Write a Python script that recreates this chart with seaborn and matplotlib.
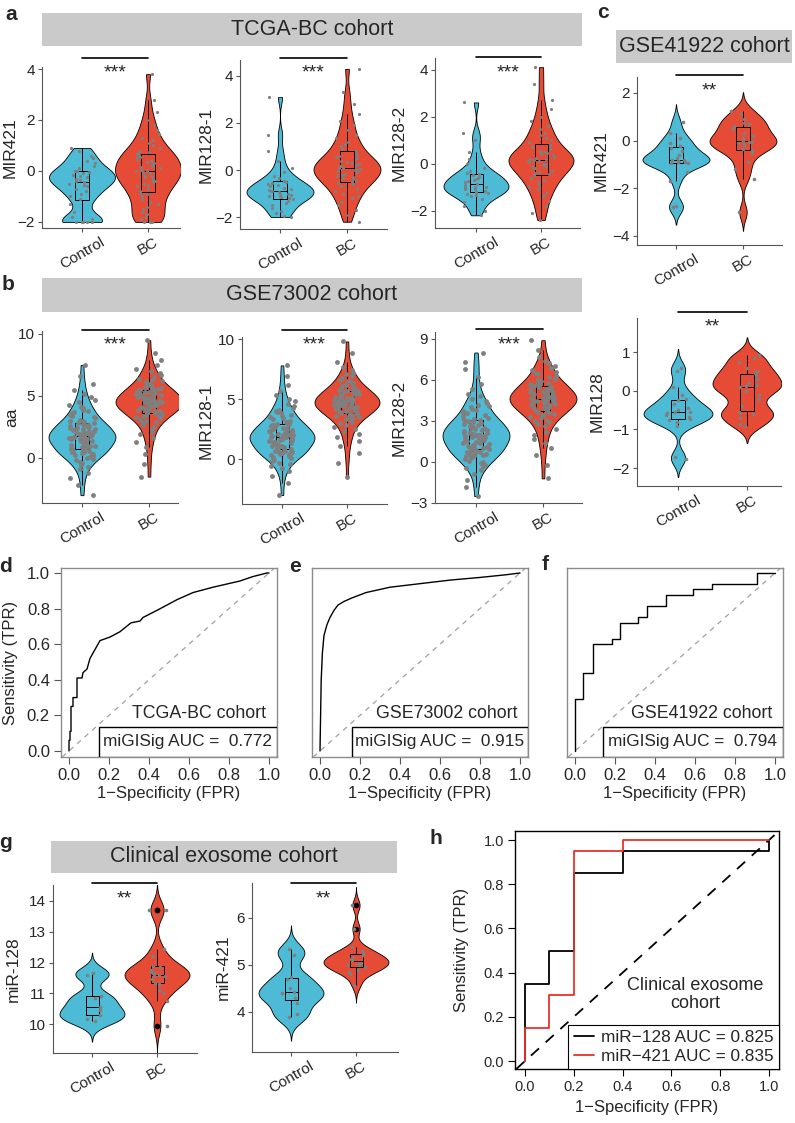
import numpy as np
import pandas as pd
import seaborn as sns
import matplotlib.pyplot as plt
from matplotlib.patches import Rectangle
from matplotlib.lines import Line2D

np.random.seed(3)

groups = ["Control", "BC"]
pal = ["#4DBBD5", "#E64B35"]
pt_grey = "#7F7F7F"

# a: TCGA-BC cohort
a1_ctrl = [-2, -2, -2, -2, -2, -1.9, -1.8, -1.6, -1.3, -1.1, -1.0, -0.9, -0.8, -0.7, -0.6, -0.55, -0.5, -0.45,
           -0.4, -0.35, -0.3, -0.25, -0.2, -0.15, -0.1, -0.05, 0, 0, 0.1, 0.2, 0.3, 0.4, 0.5, 0.6, 0.8, 0.9]
a1_bc = [-2, -2, -2, -1.9, -1.8, -1.7, -1.6, -1.5, -1.4, -1.3, -1.2, -1.1, -1.0, -0.9, -0.85, -0.8, -0.7, -0.6,
         -0.55, -0.5, -0.45, -0.4, -0.35, -0.3, -0.25, -0.2, -0.15, -0.1, -0.05, 0, 0, 0.05, 0.1, 0.15, 0.2,
         0.25, 0.3, 0.35, 0.4, 0.45, 0.5, 0.55, 0.6, 0.65, 0.7, 0.75, 0.8, 0.9, 1.0, 1.1, 1.2, 1.3, 1.45, 1.6,
         1.8, 2.0, 2.3, 2.8, 3.8]
a2_ctrl = [-2.0, -1.95, -1.85, -1.75, -1.6, -1.5, -1.4, -1.3, -1.25, -1.2, -1.15, -1.1, -1.1, -1.05, -1.0, -1.0,
           -0.95, -0.9, -0.9, -0.85, -0.8, -0.75, -0.7, -0.65, -0.6, -0.55, -0.5, -0.45, -0.35, -0.25, -0.1, 0.1,
           0.4, 0.8, 1.5, 3.1]
a2_bc = [-2.2, -1.9, -1.7, -1.5, -1.35, -1.2, -1.1, -1.0, -0.9, -0.8, -0.7, -0.6, -0.55, -0.5, -0.45, -0.4, -0.35,
         -0.3, -0.25, -0.2, -0.15, -0.1, -0.05, 0, 0, 0.05, 0.1, 0.1, 0.15, 0.2, 0.25, 0.3, 0.35, 0.4, 0.45, 0.5,
         0.55, 0.6, 0.7, 0.8, 0.9, 1.0, 1.1, 1.2, 1.35, 1.5, 1.7, 1.9, 2.1, 2.4, 2.8, 3.3, 4.3]
a3_ctrl = [-2.2, -2.0, -1.8, -1.65, -1.5, -1.4, -1.35, -1.3, -1.25, -1.2, -1.15, -1.1, -1.1, -1.05, -1.0, -1.0,
           -0.95, -0.9, -0.85, -0.8, -0.75, -0.7, -0.65, -0.6, -0.55, -0.5, -0.45, -0.4, -0.3, -0.2, 0, 0.2, 0.5,
           1.0, 1.3, 2.6]
a3_bc = [-2.4, -2.1, -1.8, -1.6, -1.4, -1.25, -1.1, -1.0, -0.9, -0.8, -0.7, -0.6, -0.5, -0.45, -0.4, -0.35, -0.3,
         -0.2, -0.15, -0.1, -0.05, 0, 0.05, 0.1, 0.1, 0.15, 0.2, 0.2, 0.25, 0.3, 0.35, 0.4, 0.45, 0.5, 0.55, 0.6,
         0.7, 0.8, 0.9, 1.0, 1.1, 1.2, 1.3, 1.45, 1.6, 1.8, 2.0, 2.3, 2.7, 3.4, 4.1]

# b: GSE73002 cohort
b1_ctrl = [-3.0, -2.2, -1.6, -1.2, -0.9,
           -0.7, -0.55, -0.4, -0.3, -0.2, -0.1, 0.0, 0.1, 0.2, 0.25,
           0.3, 0.35, 0.4, 0.45, 0.5, 0.55, 0.6, 0.65, 0.7, 0.75,
           0.8, 0.85, 0.9, 0.95, 1.0, 1.05, 1.1, 1.15, 1.2, 1.25,
           1.3, 1.35, 1.4, 1.45, 1.5, 1.5, 1.55, 1.6, 1.6, 1.65,
           1.7, 1.7, 1.75, 1.8, 1.8, 1.85, 1.9, 1.9, 1.95, 2.0,
           2.05, 2.1, 2.15, 2.2, 2.25, 2.3, 2.35, 2.4, 2.45, 2.5,
           2.55, 2.6, 2.65, 2.7, 2.75, 2.8, 2.85, 2.9, 2.95, 3.0,
           3.1, 3.2, 3.3, 3.4, 3.5, 3.6, 3.7, 3.8, 3.9, 4.0,
           4.15, 4.3, 4.5, 4.7, 4.9, 5.2, 5.5, 6.0, 6.6, 7.5]
b1_bc = [-1.5, -0.5, 0.3, 0.9, 1.3,
         1.6, 1.9, 2.1, 2.3, 2.5, 2.65, 2.8, 2.9, 3.0, 3.1,
         3.2, 3.3, 3.35, 3.4, 3.5, 3.55, 3.6, 3.65, 3.7, 3.75,
         3.8, 3.85, 3.9, 3.95, 4.0, 4.05, 4.1, 4.15, 4.2, 4.25,
         4.3, 4.3, 4.35, 4.4, 4.4, 4.45, 4.5, 4.5, 4.55, 4.6,
         4.6, 4.65, 4.7, 4.7, 4.75, 4.8, 4.85, 4.9, 4.95, 5.0,
         5.05, 5.1, 5.15, 5.2, 5.25, 5.3, 5.35, 5.4, 5.45, 5.5,
         5.55, 5.6, 5.65, 5.7, 5.8, 5.9, 6.0, 6.1, 6.2, 6.3,
         6.4, 6.55, 6.7, 6.85, 7.0, 7.2, 7.5, 7.9, 8.5, 9.5]
b2_ctrl = [-3.0, -2.0, -1.4, -1.0, -0.75,
           -0.55, -0.4, -0.3, -0.15, -0.05, 0.05, 0.15, 0.25, 0.3, 0.35,
           0.4, 0.45, 0.5, 0.55, 0.6, 0.65, 0.7, 0.75, 0.8, 0.85,
           0.9, 0.95, 1.0, 1.05, 1.1, 1.15, 1.2, 1.25, 1.3, 1.35,
           1.4, 1.45, 1.5, 1.55, 1.6, 1.6, 1.65, 1.7, 1.7, 1.75,
           1.8, 1.8, 1.85, 1.9, 1.9, 1.95, 2.0, 2.0, 2.05, 2.1,
           2.15, 2.2, 2.25, 2.3, 2.35, 2.4, 2.45, 2.5, 2.55, 2.6,
           2.65, 2.7, 2.75, 2.8, 2.85, 2.9, 2.95, 3.0, 3.05, 3.1,
           3.2, 3.3, 3.4, 3.5, 3.6, 3.7, 3.8, 3.9, 4.0, 4.1,
           4.25, 4.4, 4.6, 4.8, 5.0, 5.3, 5.7, 6.2, 6.9, 7.8]
b2_bc = [-1.5, -0.3, 0.5, 1.1, 1.5,
         1.8, 2.1, 2.3, 2.5, 2.7, 2.85, 3.0, 3.1, 3.2, 3.3,
         3.4, 3.5, 3.55, 3.6, 3.7, 3.75, 3.8, 3.85, 3.9, 3.95,
         4.0, 4.05, 4.1, 4.15, 4.2, 4.25, 4.3, 4.35, 4.4, 4.45,
         4.5, 4.5, 4.55, 4.6, 4.6, 4.65, 4.7, 4.7, 4.75, 4.8,
         4.8, 4.85, 4.9, 4.9, 4.95, 5.0, 5.05, 5.1, 5.15, 5.2,
         5.25, 5.3, 5.35, 5.4, 5.45, 5.5, 5.55, 5.6, 5.65, 5.7,
         5.75, 5.8, 5.85, 5.9, 6.0, 6.1, 6.2, 6.3, 6.4, 6.5,
         6.6, 6.75, 6.9, 7.05, 7.2, 7.4, 7.7, 8.1, 8.8, 9.8]
b3_ctrl = [-2.5, -1.8, -1.3, -0.9, -0.6,
           -0.45, -0.3, -0.2, -0.1, 0.0, 0.1, 0.2, 0.3, 0.4, 0.45,
           0.5, 0.55, 0.6, 0.65, 0.7, 0.75, 0.8, 0.85, 0.9, 0.95,
           1.0, 1.05, 1.1, 1.15, 1.2, 1.25, 1.3, 1.35, 1.4, 1.45,
           1.5, 1.55, 1.6, 1.65, 1.7, 1.75, 1.8, 1.8, 1.85, 1.9,
           1.9, 1.95, 2.0, 2.0, 2.05, 2.1, 2.1, 2.15, 2.2, 2.25,
           2.3, 2.35, 2.4, 2.45, 2.5, 2.55, 2.6, 2.65, 2.7, 2.75,
           2.8, 2.85, 2.9, 2.95, 3.0, 3.05, 3.1, 3.15, 3.2, 3.3,
           3.4, 3.5, 3.6, 3.7, 3.8, 3.9, 4.0, 4.1, 4.2, 4.3,
           4.45, 4.6, 4.8, 5.0, 5.3, 5.7, 6.2, 6.8, 7.3, 8.0]
b3_bc = [-1.2, -0.2, 0.5, 1.0, 1.4,
         1.7, 2.0, 2.2, 2.4, 2.6, 2.75, 2.9, 3.0, 3.1, 3.2,
         3.3, 3.4, 3.45, 3.5, 3.6, 3.65, 3.7, 3.75, 3.8, 3.85,
         3.9, 3.95, 4.0, 4.05, 4.1, 4.15, 4.2, 4.25, 4.3, 4.35,
         4.4, 4.4, 4.45, 4.5, 4.5, 4.55, 4.6, 4.6, 4.65, 4.7,
         4.7, 4.75, 4.8, 4.8, 4.85, 4.9, 4.95, 5.0, 5.05, 5.1,
         5.15, 5.2, 5.25, 5.3, 5.35, 5.4, 5.45, 5.5, 5.55, 5.6,
         5.65, 5.7, 5.75, 5.8, 5.9, 6.0, 6.1, 6.2, 6.3, 6.4,
         6.5, 6.6, 6.75, 6.9, 7.05, 7.2, 7.4, 7.7, 8.2, 8.9]

# c: GSE41922 cohort
c1_ctrl = [-2.8, -2.75, -1.7, -1.3, -0.95, -0.92, -0.9, -0.88, -0.85, -0.82, -0.8, -0.75, -0.6, -0.45, -0.3,
           -0.22, -0.1, 0.1, 0.3, 0.8]
c1_bc = [-3.0, -1.6, -1.2, -0.9, -0.5, -0.4, -0.35, -0.2, -0.1, -0.05, -0.05, 0.0, 0.1, 0.2, 0.3, 0.5, 0.6, 0.7,
         0.75, 0.9, 1.1, 1.25]
c2_ctrl = [-1.75, -1.72, -0.9, -0.8, -0.75, -0.72, -0.68, -0.62, -0.58, -0.56, -0.55, -0.5, -0.45, -0.35, -0.25,
           -0.2, -0.1, 0.1, 0.5, 0.6]
c2_bc = [-0.9, -0.85, -0.7, -0.6, -0.57, -0.55, -0.4, -0.2, -0.1, 0.0, 0.1, 0.12, 0.15, 0.2, 0.3, 0.4, 0.45, 0.5,
         0.6, 0.75, 0.85, 0.93]

# g: clinical exosome cohort
g1_ctrl = [10.1, 10.15, 10.3, 10.45, 10.55, 10.85, 10.9, 11.6, 11.65]
g1_bc = [9.95, 10.75, 11.0, 11.1, 11.3, 11.35, 11.45, 11.55, 11.6, 11.6, 11.65, 11.7, 11.75, 11.85, 11.9, 12.2,
         12.45, 13.7, 13.72]
g2_ctrl = [3.9, 3.95, 4.2, 4.3, 4.4, 4.42, 4.5, 4.7, 4.75, 5.2, 5.33]
g2_bc = [4.58, 4.8, 4.85, 4.9, 4.95, 5.0, 5.0, 5.05, 5.05, 5.1, 5.12, 5.15, 5.2, 5.25, 5.3, 5.37, 5.77, 6.27]

# ROC curves
d_fpr = [0, 0, 0.005, 0.005, 0.01, 0.01, 0.02, 0.02, 0.04, 0.04, 0.065, 0.07, 0.09, 0.105, 0.13, 0.155, 0.205,
         0.255, 0.31, 0.355, 0.37, 0.44, 0.54, 0.62, 0.72, 0.855, 0.92, 0.99, 1.0]
d_tpr = [0, 0.06, 0.06, 0.11, 0.11, 0.25, 0.25, 0.30, 0.30, 0.41, 0.41, 0.44, 0.46, 0.52, 0.57, 0.62, 0.64, 0.67,
         0.72, 0.73, 0.75, 0.79, 0.85, 0.89, 0.92, 0.955, 0.98, 1.0, 1.0]
e_fpr = [0, 0.003, 0.006, 0.012, 0.02, 0.035, 0.05, 0.07, 0.09, 0.12, 0.16, 0.23, 0.35, 0.5, 0.65, 0.8, 0.93, 1.0]
e_tpr = [0, 0.2, 0.4, 0.55, 0.65, 0.71, 0.75, 0.79, 0.82, 0.84, 0.86, 0.89, 0.92, 0.94, 0.96, 0.975, 0.99, 1.0]
f_fpr = [0, 0, 0.04, 0.09, 0.185, 0.225, 0.315, 0.36, 0.455, 0.59, 0.685, 0.91, 1.0]
f_tpr = [0, 0.29, 0.44, 0.60, 0.63, 0.72, 0.75, 0.815, 0.875, 0.91, 0.94, 1.0, 1.0]
h128_fpr = [0, 0, 0.1, 0.2, 0.4, 1.0, 1.0]
h128_tpr = [0, 0.35, 0.5, 0.85, 0.95, 0.95, 1.0]
h421_fpr = [0, 0, 0.1, 0.2, 0.4, 1.0]
h421_tpr = [0, 0.15, 0.3, 0.95, 1.0, 1.0]
auc_text = ["0.772", "0.915", "0.794"]
roc_ticks = [0, 0.2, 0.4, 0.6, 0.8, 1.0]

W, H = 795, 1123
sns.set_style("ticks")
plt.rcParams["font.family"] = ["Liberation Sans", "DejaVu Sans"]
fig = plt.figure(figsize=(W / 100, H / 100), dpi=100)


def add_ax(l, t, r, b):
    return fig.add_axes([l / W, 1 - b / H, (r - l) / W, (b - t) / H])


def strip(x0, y0, x1, y1, label):
    fig.add_artist(Rectangle((x0 / W, 1 - y1 / H), (x1 - x0) / W, (y1 - y0) / H,
                             transform=fig.transFigure, facecolor="#CACACA", edgecolor="none"))
    fig.text((x0 + x1) / 2 / W, 1 - (y0 + y1) / 2 / H, label, ha="center", va="center", fontsize=15.5)


def violin_panel(pos, cats, ctrl, bc, ylabel, ylab_x, ylim, yticks, bar_y, star_y, stars,
                 cut=0, bw=0.8, pt=2.0, jit=0.2, fliers=False):
    l, t, r, b = pos
    c0, c1 = cats
    s = c1 - c0
    ax = add_ax(l, t, r, b)
    df = pd.DataFrame({"group": ["Control"] * len(ctrl) + ["BC"] * len(bc), "value": ctrl + bc})
    sns.violinplot(data=df, x="group", y="value", hue="group", order=groups, hue_order=groups,
                   palette=pal, saturation=1, cut=cut, bw_adjust=bw, inner=None, width=1.0,
                   linewidth=0.6, linecolor="black", legend=False, ax=ax)
    sns.boxplot(data=df, x="group", y="value", hue="group", order=groups, hue_order=groups,
                palette=pal, saturation=1, width=0.2, showfliers=fliers, showcaps=False,
                linewidth=0.7, linecolor="black", legend=False, ax=ax,
                flierprops=dict(marker="o", markerfacecolor="black", markeredgecolor="black", markersize=3))
    sns.stripplot(data=df, x="group", y="value", order=groups, color=pt_grey, size=pt,
                  jitter=jit, ax=ax, zorder=3)
    ax.set_xlim((l - c0) / s, 1 + (r - c1) / s)
    ax.set_ylim(ylim)
    ax.set_yticks(yticks)
    ax.set_xticks([0, 1])
    ax.set_xticklabels(groups, rotation=30)
    ax.set_xlabel("")
    ax.set_ylabel(ylabel, fontsize=12.5)
    ax.yaxis.set_label_coords((ylab_x + 7 - l) / (r - l), 0.5)
    for side in ["top", "right"]:
        ax.spines[side].set_visible(False)
    for side in ["left", "bottom"]:
        ax.spines[side].set_color("#555555")
        ax.spines[side].set_linewidth(0.8)
    ax.tick_params(length=3, width=0.8, color="#555555", labelsize=11, pad=2)
    ax.plot([0, 1], [bar_y, bar_y], color="black", lw=1.2, clip_on=False)
    ax.annotate(stars, (0.5, star_y), xytext=(0, -2), textcoords="offset points",
                ha="center", va="center", fontsize=14, annotation_clip=False)
    return ax


violin_panel((42, 67, 180, 228), (82, 148), a1_ctrl, a1_bc, "MIR421", 11, (-2.24, 4.08), [-2, 0, 2, 4],
             4.43, 3.96, "***", bw=0.6, pt=2.3)
violin_panel((240, 60, 387, 229), (280, 347), a2_ctrl, a2_bc, "MIR128-1", 207, (-2.51, 4.68), [-2, 0, 2, 4],
             4.77, 4.26, "***", bw=0.6, pt=2.3)
violin_panel((435, 58, 580, 228), (476, 541), a3_ctrl, a3_bc, "MIR128-2", 400, (-2.74, 4.49), [-2, 0, 2, 4],
             4.53, 3.98, "***", bw=0.6, pt=2.3)
violin_panel((42, 331, 178, 503), (82, 149), b1_ctrl, b1_bc, "aa", 12, (-3.63, 10.24), [0, 5, 10],
             10.3, 9.35, "***", bw=0.7, pt=3.5)
violin_panel((242, 337, 387, 504), (282, 347), b2_ctrl, b2_bc, "MIR128-1", 207, (-3.75, 10.17), [0, 5, 10],
             10.75, 9.75, "***", bw=0.7, pt=3.5)
violin_panel((435, 332, 582, 503), (476, 543), b3_ctrl, b3_bc, "MIR128-2", 400, (-3.0, 9.5), [-3, 0, 3, 6, 9],
             9.73, 8.78, "***", bw=0.7, pt=3.5)
violin_panel((637, 77, 782, 245), (676, 743), c1_ctrl, c1_bc, "MIR421", 602, (-4.38, 2.67), [-4, -2, 0, 2],
             2.76, 2.21, "**", cut=2.5, bw=0.6, pt=2.6, jit=0.18)
violin_panel((637, 318, 781, 486), (678, 747), c2_ctrl, c2_bc, "MIR128", 598, (-2.46, 1.88), [-2, -1, 0, 1],
             2.03, 1.72, "**", cut=2.5, bw=0.6, pt=2.6, jit=0.18)
violin_panel((53, 885, 197, 1053), (92, 157), g1_ctrl, g1_bc, "miR-128", 14, (9.06, 14.52),
             [10, 11, 12, 13, 14], 14.59, 14.16, "**", cut=3, bw=0.6, pt=2.6, jit=0.15, fliers=True)
violin_panel((252, 883, 398, 1052), (291, 356), g2_ctrl, g2_bc, "miR-421", 224, (3.15, 6.74), [4, 5, 6],
             6.74, 6.47, "**", cut=3, bw=0.6, pt=2.6, jit=0.15, fliers=True)


def roc_axes(pos, xlim, ylim, edge):
    ax = add_ax(*pos)
    ax.set_xlim(xlim)
    ax.set_ylim(ylim)
    for sp in ax.spines.values():
        sp.set_color(edge)
        sp.set_linewidth(1.0)
    ax.set_xticks(roc_ticks)
    ax.set_yticks(roc_ticks)
    return ax


rxlim = (-0.04, 1.04)
rylim = (-0.034, 1.028)
roc_boxes = [(61, 568, 277, 757), (312, 568, 528, 757), (567, 568, 783, 757)]
roc_curves = [(d_fpr, d_tpr, None), (e_fpr, e_tpr, None), (f_fpr, f_tpr, "steps-post")]
roc_names = ["TCGA-BC cohort", "GSE73002 cohort", "GSE41922 cohort"]
leg_left = [0.15, 0.16, 0.14]
for i in range(3):
    ax = roc_axes(roc_boxes[i], rxlim, rylim, "#8C8C8C")
    fpr, tpr, ds = roc_curves[i]
    kw = {"drawstyle": ds} if ds else {}
    ax.axline((0, 0), (1, 1), color="#A0A0A0", lw=0.9, dashes=(4, 4))
    sns.lineplot(x=fpr, y=tpr, sort=False, estimator=None, color="black", lw=1.0, ax=ax, **kw)
    ax.tick_params(axis="x", length=5, width=0.8, color="#555555", labelsize=12, pad=3)
    if i == 0:
        ax.tick_params(axis="y", length=5, width=0.8, color="#555555", labelsize=12, pad=3)
        ax.set_ylabel("Sensitivity (TPR)", fontsize=12)
        ax.yaxis.set_label_coords((18 - 61) / 216, 0.5)
    else:
        ax.tick_params(axis="y", left=False, labelleft=False)
    ax.set_xlabel("1\u2212Specificity (FPR)", fontsize=12, labelpad=2)
    x0 = leg_left[i]
    ax.add_patch(Rectangle((x0, rylim[0]), rxlim[1] - x0, 0.135 - rylim[0], facecolor="white",
                           edgecolor="black", lw=1.0, zorder=4))
    ax.text((x0 + rxlim[1]) / 2, (0.135 + rylim[0]) / 2, "miGISig AUC =  " + auc_text[i],
            ha="center", va="center", fontsize=12.4, zorder=5)
    ax.text(0.985, 0.213, roc_names[i], ha="right", va="center", fontsize=12.8)

# h: clinical exosome ROC
hx = (-0.041, 1.041)
hy = (-0.036, 1.041)
ax = roc_axes((515, 831, 779, 1069), hx, hy, "black")
ax.axline((0, 0), (1, 1), color="black", lw=1.3, dashes=(6, 5))
sns.lineplot(x=h128_fpr, y=h128_tpr, sort=False, estimator=None, color="black", lw=1.3,
             drawstyle="steps-post", ax=ax)
sns.lineplot(x=h421_fpr, y=h421_tpr, sort=False, estimator=None, color="#E8332A", lw=1.3,
             drawstyle="steps-post", ax=ax)
ax.tick_params(length=5, width=0.8, color="black", labelsize=10.5, pad=3)
ax.set_ylabel("Sensitivity (TPR)", fontsize=12)
ax.yaxis.set_label_coords((469 - 515) / 264, 0.5)
ax.set_xlabel("1\u2212Specificity (FPR)", fontsize=12, labelpad=4)
ax.text(0.697, 0.30, "Clinical exosome\ncohort", ha="center", va="center", fontsize=13, linespacing=1.1)
handles = [Line2D([], [], color="black", lw=1.3), Line2D([], [], color="#E8332A", lw=1.3)]
leg = ax.legend(handles, ["miR\u2212128 AUC = 0.825", "miR\u2212421 AUC = 0.835"], loc="lower right",
                fontsize=12.4, frameon=True, fancybox=False, edgecolor="black", framealpha=1,
                borderaxespad=0, handlelength=1.2, handletextpad=0.4, borderpad=0.3, labelspacing=0.2)
leg.get_frame().set_linewidth(0.8)

# cohort strips
strip(42, 13, 582, 46, "TCGA-BC cohort")
strip(42, 278, 582, 312, "GSE73002 cohort")
strip(616, 30, 792, 63, "GSE41922 cohort")
strip(51, 841, 397, 873, "Clinical exosome cohort")

# panel letters
letters = [("a", 11, 15), ("b", 8, 285), ("c", 603, 13), ("d", 6, 566), ("e", 295, 567),
           ("f", 545, 565), ("g", 6, 843), ("h", 436, 838)]
for lab, x, y in letters:
    fig.text(x / W, 1 - y / H, lab, ha="center", va="center", fontsize=15, fontweight="bold")

fig.savefig("out.png", dpi=100)
